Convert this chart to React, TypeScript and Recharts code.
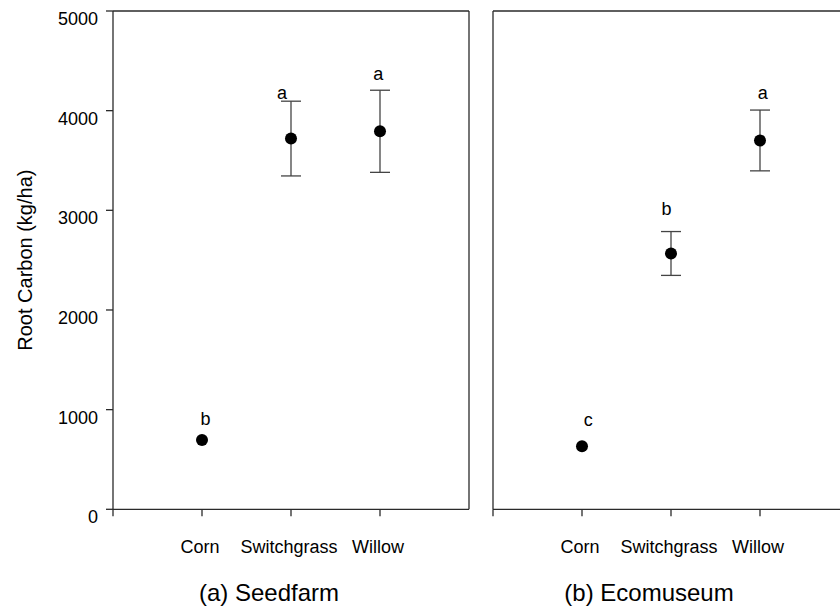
import { ScatterChart, Scatter, XAxis, YAxis, ErrorBar, Label, ReferenceLine } from 'recharts';

const categories = ['Corn', 'Switchgrass', 'Willow'];
const xTicks = [0, 1, 2, 3];
const yTicks = [0, 1000, 2000, 3000, 4000, 5000];

// (a) Seedfarm
const seedfarmMeans = [695, 3720, 3793];
const seedfarmErrors = [0, 375, 412];
const seedfarmLetters = ['b', 'a', 'a'];
const seedfarmLetterX = [1.04, 1.9, 2.98];
const seedfarmLetterY = [903, 4174, 4368];

// (b) Ecomuseum
const ecomuseumMeans = [633, 2567, 3701];
const ecomuseumErrors = [0, 220, 305];
const ecomuseumLetters = ['c', 'b', 'a'];
const ecomuseumLetterX = [1.07, 1.95, 3.03];
const ecomuseumLetterY = [900, 3017, 4175];

const FONT = '"Liberation Sans", Arial, sans-serif';
const AXIS = '#2a2a2a';

const XTick = (props: any) => {
  const { x, y, payload } = props;
  const name = categories[payload.value - 1];
  if (!name) return <g />;
  return (
    <text x={x - 2} y={y + 35} textAnchor="middle" fontSize={18} fontFamily={FONT} fill="#000">
      {name}
    </text>
  );
};

const YTick = (props: any) => {
  const { x, y, payload } = props;
  return (
    <text x={x} y={y + 14} textAnchor="end" fontSize={18} fontFamily={FONT} fill="#000">
      {payload.value}
    </text>
  );
};

const PanelTitle = (props: any) => {
  const { viewBox, text } = props;
  return (
    <text
      x={viewBox.x + viewBox.width / 2 - 22}
      y={viewBox.y + 92}
      textAnchor="middle"
      fontSize={24}
      fontFamily={FONT}
      fill="#000"
    >
      {text}
    </text>
  );
};

const YTitle = (props: any) => {
  const { viewBox } = props;
  const cx = 25;
  const cy = viewBox.y + viewBox.height / 2;
  return (
    <text
      x={cx}
      y={cy}
      transform={`rotate(-90, ${cx}, ${cy})`}
      textAnchor="middle"
      dominantBaseline="central"
      fontSize={20}
      fontFamily={FONT}
      fill="#000"
    >
      Root Carbon (kg/ha)
    </text>
  );
};

const Dot = (props: any) => <circle cx={props.cx} cy={props.cy} r={6} fill="#000" />;

const Letter = (props: any) => (
  <text x={props.cx} y={props.cy} textAnchor="middle" dominantBaseline="central" fontSize={18} fontFamily={FONT} fill="#000">
    {props.payload.letter}
  </text>
);

type PanelProps = {
  means: number[];
  errors: number[];
  letters: string[];
  letterX: number[];
  letterY: number[];
  title: string;
  first: boolean;
};

const Panel = ({ means, errors, letters, letterX, letterY, title, first }: PanelProps) => {
  const points = categories.map((c, i) => ({ x: i + 1, y: means[i], err: errors[i], name: c }));
  const marks = letters.map((l, i) => ({ x: letterX[i], y: letterY[i], letter: l }));
  return (
    <ScatterChart width={480} height={607} margin={{ top: 11, right: 11, bottom: 0, left: 0 }}>
      <XAxis
        type="number"
        dataKey="x"
        domain={[0, 4]}
        ticks={xTicks}
        interval={0}
        height={97.7}
        tickSize={7}
        tick={<XTick />}
        stroke={AXIS}
        strokeWidth={1.3}
        allowDataOverflow
      >
        <Label content={<PanelTitle text={title} />} />
      </XAxis>
      <YAxis
        type="number"
        dataKey="y"
        domain={[0, 5000]}
        ticks={yTicks}
        interval={0}
        width={113}
        tickSize={7}
        tickMargin={8}
        tick={first ? <YTick /> : false}
        stroke={AXIS}
        strokeWidth={1.3}
        allowDataOverflow
      >
        {first && <Label content={<YTitle />} />}
      </YAxis>
      {/* frame: top edge, and right edge on the first panel (the second is cut off by the page) */}
      <ReferenceLine y={5000} stroke={AXIS} strokeWidth={1.3} ifOverflow="visible" />
      {first && <ReferenceLine x={4} stroke={AXIS} strokeWidth={1.3} ifOverflow="visible" />}
      <Scatter data={points} shape={<Dot />} isAnimationActive={false}>
        <ErrorBar dataKey="err" direction="y" width={10} stroke="#444" strokeWidth={1.3} />
      </Scatter>
      <Scatter data={marks} shape={<Letter />} isAnimationActive={false} />
    </ScatterChart>
  );
};

export default function App() {
  return (
    <div style={{ position: 'absolute', left: 0, top: 0, width: 840, height: 607, overflow: 'hidden', background: '#fff' }}>
      <div style={{ position: 'absolute', left: 0, top: 0 }}>
        <Panel
          means={seedfarmMeans}
          errors={seedfarmErrors}
          letters={seedfarmLetters}
          letterX={seedfarmLetterX}
          letterY={seedfarmLetterY}
          title="(a) Seedfarm"
          first
        />
      </div>
      <div style={{ position: 'absolute', left: 380, top: 0 }}>
        <Panel
          means={ecomuseumMeans}
          errors={ecomuseumErrors}
          letters={ecomuseumLetters}
          letterX={ecomuseumLetterX}
          letterY={ecomuseumLetterY}
          title="(b) Ecomuseum"
          first={false}
        />
      </div>
    </div>
  );
}
